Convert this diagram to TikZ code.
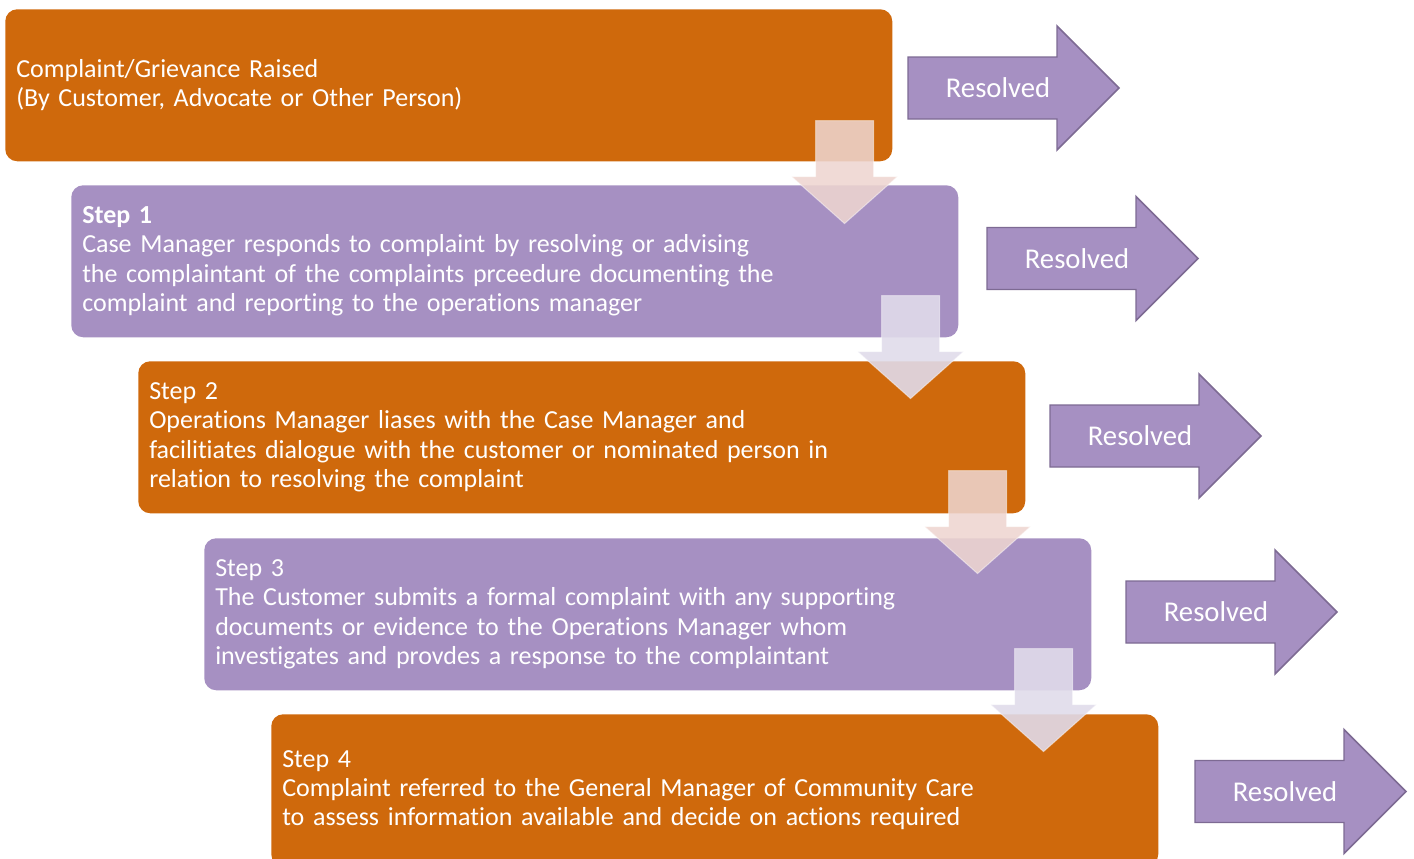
\documentclass[tikz,border=0pt]{standalone}
\usepackage{fontspec}
\setmainfont{Carlito}[Ligatures={NoCommon}]
\usetikzlibrary{calc}
\definecolor{orng}{HTML}{CF690C}
\definecolor{purp}{HTML}{A690C2}
\definecolor{purpline}{HTML}{7D6A93}
\definecolor{pinkarr}{HTML}{EED5D0}
\definecolor{lavarr}{HTML}{E0DBEA}
\begin{document}
\begin{tikzpicture}[x=0.75pt,y=-0.75pt,
  box/.style={rectangle, rounded corners=9pt, anchor=north west,
    minimum width=665.25pt, minimum height=114pt, text width=648.75pt,
    inner xsep=8.25pt, inner ysep=0pt, align=left, text=white,
    font=\fontsize{19.5}{22}\selectfont},
  obox/.style={box, fill=orng},
  pbox/.style={box, fill=purp},
  pinkdown/.style={fill=pinkarr, fill opacity=0.87, draw=white, draw opacity=0.45, line width=0.8pt},
  lavdown/.style={fill=lavarr, fill opacity=0.9, draw=white, draw opacity=0.45, line width=0.8pt},
  resarr/.style={fill=purp, draw=purpline, line width=1.1pt},
  restext/.style={text=white, font=\fontsize{21.5}{24}\selectfont, inner sep=0pt},
  pics/downarr/.style={code={
    \path[pic actions] (-29,0) -- (29,0) -- (29,56) -- (53,56) -- (0,103) -- (-53,56) -- (-29,56) -- cycle;}},
  pics/rightarr/.style={code={
    \path[pic actions] (0,-31) -- (149,-31) -- (149,-62) -- (211,0) -- (149,62) -- (149,31) -- (0,31) -- cycle;}}
]
\useasboundingbox (0,0) rectangle (1414,858);

% boxes
\node[obox] (b0) at (5,9) {Complaint/Grievance Raised\\(By Customer, Advocate or Other Person)};
\node[pbox] (b1) at (71,185) {\textbf{Step 1}\\Case Manager responds to complaint by resolving or advising\\the complaintant of the complaints prceedure documenting the\\complaint and reporting to the operations manager};
\node[obox] (b2) at (138,361) {Step 2\\Operations Manager liases with the Case Manager and\\facilitiates dialogue with the customer or nominated person in\\relation to resolving the complaint};
\node[pbox] (b3) at (204,538) {Step 3\\The Customer submits a formal complaint with any supporting\\documents or evidence to the Operations Manager whom\\investigates and provdes a response to the complaintant};
\node[obox] (b4) at (271,714) {Step 4\\Complaint referred to the General Manager of Community Care\\to assess information available and decide on actions required};

% down arrows between boxes
\coordinate (d0) at ($(b0.south east)+(-48,-41)$);
\coordinate (d1) at ($(b1.south east)+(-48,-42)$);
\coordinate (d2) at ($(b2.south east)+(-48,-43)$);
\coordinate (d3) at ($(b3.south east)+(-48,-42)$);
\pic[pinkdown] at (d0) {downarr};
\pic[lavdown] at (d1) {downarr};
\pic[pinkdown] at (d2) {downarr};
\pic[lavdown] at (d3) {downarr};

% resolved arrows
\coordinate (r0) at (908,88);
\coordinate (r1) at (987,258.5);
\coordinate (r2) at (1050,436);
\coordinate (r3) at (1126,612);
\coordinate (r4) at (1195,791.5);
\foreach \i in {0,...,4}{
  \pic[resarr] at (r\i) {rightarr};
  \node[restext] (rt\i) at ($(r\i)+(90,0)$) {Resolved};
}
\end{tikzpicture}
\end{document}
